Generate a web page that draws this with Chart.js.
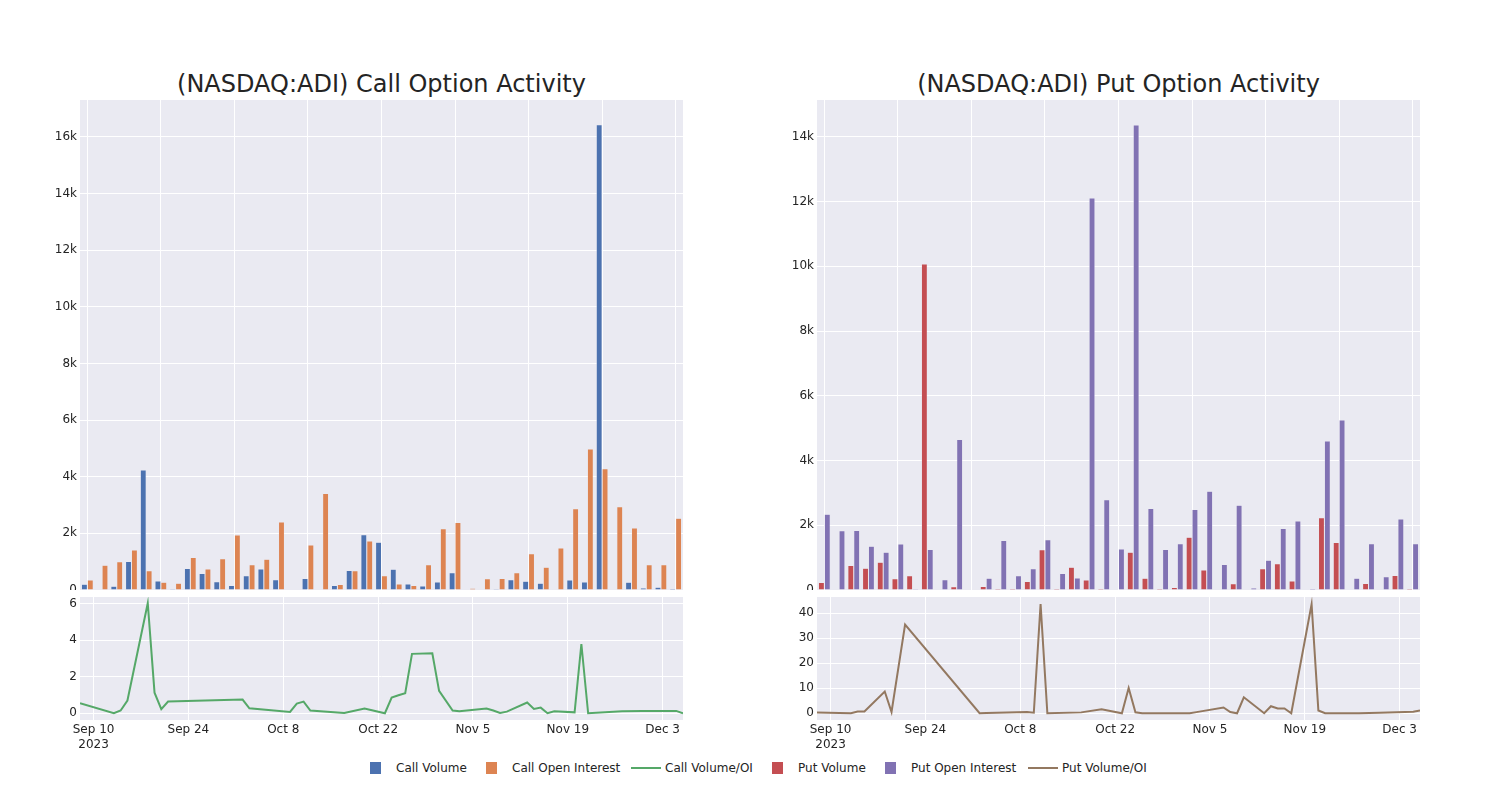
<!DOCTYPE html>
<html>
<head>
<meta charset="utf-8">
<script src="https://cdn.jsdelivr.net/npm/chart.js@4.4.1/dist/chart.umd.min.js"></script>
<style>
  html, body { margin: 0; padding: 0; background: #ffffff; }
  body { width: 1500px; height: 800px; position: relative; overflow: hidden;
         font-family: 'DejaVu Sans', sans-serif; color: rgb(36,36,36); }
  .box { position: absolute; }
  .title { position: absolute; font-size: 24px; white-space: nowrap; transform: translate(-50%, -50%); }
  .leg { position: absolute; font-size: 12px; white-space: nowrap; top: 761px; line-height: 14px; }
  .sw { position: absolute; width: 11px; height: 12px; top: 762px; }
  .ln { position: absolute; height: 2px; width: 30px; top: 767px; }
</style>
</head>
<body>
<div class="title" style="left:381.5px; top:84px;">(NASDAQ:ADI) Call Option Activity</div>
<div class="title" style="left:1118.5px; top:84px;">(NASDAQ:ADI) Put Option Activity</div>

<div class="box" style="left:20px; top:100px; width:663px; height:490px;"><canvas id="callBars" width="663" height="490"></canvas></div>
<div class="box" style="left:20px; top:597px; width:663px; height:163px;"><canvas id="callLine" width="663" height="163"></canvas></div>
<div class="box" style="left:757px; top:100px; width:663px; height:490px;"><canvas id="putBars" width="663" height="490"></canvas></div>
<div class="box" style="left:757px; top:597px; width:663px; height:163px;"><canvas id="putLine" width="663" height="163"></canvas></div>

<div class="sw" style="left:370px; background:#4c72b0;"></div><div class="leg" style="left:396px;">Call Volume</div>
<div class="sw" style="left:486px; background:#dd8452;"></div><div class="leg" style="left:512px;">Call Open Interest</div>
<div class="ln" style="left:631px; background:#55a868;"></div><div class="leg" style="left:665px;">Call Volume/OI</div>
<div class="sw" style="left:772px; background:#c44e52;"></div><div class="leg" style="left:798px;">Put Volume</div>
<div class="sw" style="left:885px; background:#8172b3;"></div><div class="leg" style="left:911px;">Put Open Interest</div>
<div class="ln" style="left:1028px; background:#937860;"></div><div class="leg" style="left:1062px;">Put Volume/OI</div>

<script>
// ---------- DATA ----------
const tradeDates = [
  '2023-09-08','2023-09-13','2023-09-14','2023-09-15','2023-09-18','2023-09-19','2023-09-20','2023-09-21',
  '2023-10-02','2023-10-03','2023-10-09','2023-10-10','2023-10-11','2023-10-12','2023-10-17','2023-10-20',
  '2023-10-23','2023-10-24','2023-10-25','2023-10-26','2023-10-27','2023-10-30','2023-10-31','2023-11-02',
  '2023-11-03','2023-11-07','2023-11-08','2023-11-09','2023-11-10','2023-11-13','2023-11-14','2023-11-15',
  '2023-11-16','2023-11-17','2023-11-20','2023-11-21','2023-11-22','2023-11-27','2023-11-30','2023-12-05',
  '2023-12-06'
];
const callVolume = [200,0,130,1010,4240,320,40,760,580,290,160,500,740,360,0,410,20,160,690,1950,
  1690,730,210,140,280,610,10,10,40,360,310,240,10,350,280,16430,20,270,70,100,50];
const callOpenInterest = [350,870,1000,1410,680,270,240,1150,740,1100,1940,890,1090,2400,20,1590,3410,190,680,1730,
  500,210,160,890,2160,2380,60,400,410,610,1280,800,1480,2870,4980,4280,2940,2190,890,890,2530];
const putVolume = [230,20,760,670,860,350,440,10070,20,100,10,110,40,40,260,1240,50,700,310,40,
  20,1170,360,50,80,1630,620,10,190,10,660,810,280,0,2230,1470,0,200,10,450,50];
const putOpenInterest = [2340,1830,1840,1350,1170,1420,30,1250,320,4650,10,360,1530,440,660,1550,510,370,12110,2790,
  1270,14370,2520,1250,1430,2490,3050,790,2620,60,920,1900,2130,50,4600,5250,360,1430,410,2190,1430];

const callRatioDates = tradeDates;
const callRatio = [0.55,0,0.15,0.7,6.04,1.13,0.22,0.64,0.75,0.27,0.07,0.53,0.64,0.15,0.02,0.26,
  0,0.86,0.99,1.1,3.26,3.29,1.23,0.15,0.11,0.26,0.15,0.02,0.09,0.59,0.24,0.31,0,0.11,0.05,3.8,0,0.11,0.12,0.13,0];

const putRatioDates = [
  '2023-09-08','2023-09-13','2023-09-14','2023-09-15','2023-09-18','2023-09-19','2023-09-21','2023-10-02',
  '2023-10-03','2023-10-09','2023-10-10','2023-10-11','2023-10-12','2023-10-17','2023-10-20','2023-10-23',
  '2023-10-24','2023-10-25','2023-10-26','2023-10-27','2023-10-30','2023-10-31','2023-11-02','2023-11-03',
  '2023-11-07','2023-11-08','2023-11-09','2023-11-10','2023-11-13','2023-11-14','2023-11-15','2023-11-16',
  '2023-11-17','2023-11-20','2023-11-21','2023-11-22','2023-11-27','2023-11-30','2023-12-05','2023-12-06'
];
const putRatio = [0.27,0,0.67,0.67,8.7,0.5,35.5,0,0.1,0.5,0.2,43.7,0,0.35,1.6,0,
  10.1,0.4,0,0,0,0,0,0.45,2.3,0.5,0,6.4,0,2.8,1.9,1.9,0,43.6,1.1,0,0,0.2,0.6,1.1];

const dateTickLabels = ['Sep 10','Sep 24','Oct 8','Oct 22','Nov 5','Nov 19','Dec 3'];
const dateTickDates = ['2023-09-10','2023-09-24','2023-10-08','2023-10-22','2023-11-05','2023-11-19','2023-12-03'];
const axisStartDate = '2023-09-08';
const axisEndDate = '2023-12-06';
const callBarTicks = [0,2000,4000,6000,8000,10000,12000,14000,16000];
const putBarTicks = [0,2000,4000,6000,8000,10000,12000,14000];
const callRatioTicks = [0,2,4,6];
const putRatioTicks = [0,10,20,30,40];

// ---------- HELPERS ----------
const DAY = 86400000;
const ORIGIN = Date.UTC(2023, 8, 10);
function dayNum(s) { const p = s.split('-').map(Number); return (Date.UTC(p[0], p[1]-1, p[2]) - ORIGIN) / DAY; }

Chart.defaults.font.family = "'DejaVu Sans', sans-serif";
Chart.defaults.font.size = 12;
Chart.defaults.color = 'rgb(36,36,36)';
Chart.defaults.animation = false;

const bgPlugin = {
  id: 'plotbg',
  beforeDraw(chart) {
    const a = chart.chartArea, ctx = chart.ctx;
    ctx.save(); ctx.fillStyle = '#EAEAF2';
    ctx.fillRect(a.left, a.top, a.right - a.left, a.bottom - a.top);
    ctx.restore();
  }
};

function kFmt(v) { return v === 0 ? '0' : (v / 1000) + 'k'; }

function yAxis(min, max, ticks, fmt) {
  return {
    min, max,
    afterBuildTicks(s) { s.ticks = ticks.map(v => ({ value: v })); },
    afterFit(s) { s.width = 60; s.paddingTop = 0; s.paddingBottom = 0; },
    ticks: { padding: 3, callback: fmt || (v => String(v)) },
    grid: { color: '#ffffff', lineWidth: 1, drawTicks: false },
    border: { display: false }
  };
}

function barChart(id, vol, oi, c1, c2, yMax, ticks, lab1, lab2) {
  return new Chart(document.getElementById(id), {
    type: 'bar',
    data: {
      labels: tradeDates,
      datasets: [
        { label: lab1, data: vol, backgroundColor: c1, borderColor: 'rgba(234,234,242,0.8)', borderWidth: 0.5, categoryPercentage: 0.8, barPercentage: 1.0 },
        { label: lab2, data: oi, backgroundColor: c2, borderColor: 'rgba(234,234,242,0.8)', borderWidth: 0.5, categoryPercentage: 0.8, barPercentage: 1.0 }
      ]
    },
    options: {
      responsive: false,
      devicePixelRatio: 1,
      layout: { padding: 0 },
      plugins: { legend: { display: false }, tooltip: { enabled: false } },
      scales: {
        x: {
          type: 'category',
          afterBuildTicks(s) { s.ticks = s.ticks.filter((t, i) => i % 5 === 0); },
          afterFit(s) { s.height = 0; s.paddingLeft = 0; s.paddingRight = 0; },
          ticks: { display: false },
          grid: { color: '#ffffff', lineWidth: 1, offset: false, drawTicks: false },
          border: { display: false }
        },
        y: yAxis(0, yMax, ticks, kFmt)
      }
    },
    plugins: [bgPlugin]
  });
}

function lineChart(id, dates, vals, color, yMin, yMax, ticks, lab) {
  const tickVals = dateTickDates.map(dayNum);
  return new Chart(document.getElementById(id), {
    type: 'line',
    data: {
      datasets: [{
        label: lab,
        data: dates.map((d, i) => ({ x: dayNum(d), y: vals[i] })),
        borderColor: color, borderWidth: 2, pointRadius: 0, tension: 0, fill: false
      }]
    },
    options: {
      responsive: false,
      devicePixelRatio: 1,
      layout: { padding: 0 },
      plugins: { legend: { display: false }, tooltip: { enabled: false } },
      scales: {
        x: {
          type: 'linear',
          min: dayNum(axisStartDate), max: dayNum(axisEndDate),
          afterBuildTicks(s) { s.ticks = tickVals.map(v => ({ value: v })); },
          afterFit(s) { s.height = 40; s.paddingLeft = 0; s.paddingRight = 0; },
          ticks: {
            padding: 3, maxRotation: 0, autoSkip: false,
            callback(v) {
              const i = tickVals.indexOf(v);
              if (i < 0) return '';
              return i === 0 ? [dateTickLabels[i], '2023'] : dateTickLabels[i];
            }
          },
          grid: { color: '#ffffff', lineWidth: 1, drawTicks: false },
          border: { display: false }
        },
        y: yAxis(yMin, yMax, ticks)
      }
    },
    plugins: [bgPlugin]
  });
}

barChart('callBars', callVolume, callOpenInterest, '#4c72b0', '#dd8452', 17300, callBarTicks, 'Call Volume', 'Call Open Interest');
barChart('putBars', putVolume, putOpenInterest, '#c44e52', '#8172b3', 15140, putBarTicks, 'Put Volume', 'Put Open Interest');
lineChart('callLine', callRatioDates, callRatio, '#55a868', -0.37, 6.38, callRatioTicks, 'Call Volume/OI');
lineChart('putLine', putRatioDates, putRatio, '#937860', -2.7, 46.5, putRatioTicks, 'Put Volume/OI');
</script>
</body>
</html>
